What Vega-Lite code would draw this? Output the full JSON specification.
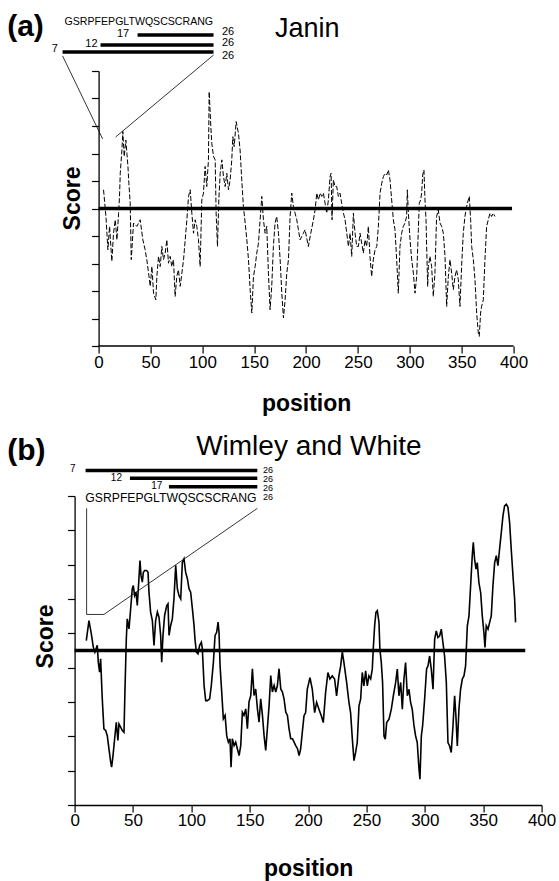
{
"$schema": "https://vega.github.io/schema/vega-lite/v6.json",
"background": "white",
"padding": {"left": 6.6, "top": 12, "right": 0, "bottom": 0},
"spacing": 18,
"config": {"view": {"stroke": null}, "font": "Liberation Sans"},
"datasets": {
"janin": [{"x":4.8,"y":0.68},{"x":7.1,"y":-0.29},{"x":9.0,"y":-1.5},{"x":10.6,"y":-0.65},{"x":12.8,"y":-1.92},{"x":14.4,"y":-0.9},{"x":16.1,"y":-0.41},{"x":17.7,"y":-1.14},{"x":19.3,"y":-0.17},{"x":20.2,"y":0.44},{"x":20.9,"y":1.28},{"x":22.5,"y":2.13},{"x":23.4,"y":2.8},{"x":24.7,"y":1.89},{"x":26.3,"y":2.49},{"x":27.3,"y":2.01},{"x":28.3,"y":1.53},{"x":29.2,"y":0.92},{"x":30.5,"y":0.19},{"x":31.5,"y":-1.86},{"x":33.7,"y":-0.53},{"x":36.9,"y":-0.65},{"x":40.1,"y":-0.41},{"x":42.7,"y":-1.14},{"x":44.9,"y":-1.5},{"x":46.5,"y":-1.86},{"x":48.2,"y":-2.35},{"x":49.8,"y":-2.83},{"x":51.4,"y":-2.11},{"x":53.0,"y":-3.08},{"x":55.2,"y":-3.32},{"x":56.2,"y":-2.47},{"x":57.8,"y":-1.74},{"x":59.4,"y":-2.11},{"x":61.0,"y":-1.38},{"x":62.6,"y":-1.86},{"x":64.2,"y":-1.62},{"x":65.8,"y":-1.14},{"x":67.4,"y":-1.99},{"x":69.0,"y":-1.74},{"x":70.6,"y":-2.11},{"x":72.2,"y":-1.86},{"x":73.8,"y":-3.2},{"x":75.4,"y":-2.47},{"x":77.0,"y":-2.23},{"x":78.7,"y":-2.83},{"x":80.3,"y":-2.35},{"x":81.9,"y":-1.86},{"x":83.5,"y":-1.14},{"x":85.1,"y":-0.41},{"x":86.7,"y":0.44},{"x":88.3,"y":0.68},{"x":89.9,"y":-0.17},{"x":91.5,"y":-0.9},{"x":93.1,"y":-0.41},{"x":94.7,"y":-0.65},{"x":96.3,"y":-1.14},{"x":97.9,"y":-2.11},{"x":99.5,"y":0.31},{"x":101.1,"y":0.56},{"x":102.7,"y":1.53},{"x":104.3,"y":0.8},{"x":105.9,"y":1.77},{"x":106.6,"y":4.25},{"x":108.2,"y":2.98},{"x":109.1,"y":2.37},{"x":110.8,"y":1.89},{"x":112.4,"y":1.77},{"x":113.3,"y":-0.17},{"x":114.6,"y":-1.38},{"x":115.9,"y":0.31},{"x":117.2,"y":1.28},{"x":118.8,"y":1.77},{"x":120.4,"y":1.16},{"x":122.0,"y":0.8},{"x":123.6,"y":1.28},{"x":125.2,"y":0.68},{"x":126.8,"y":1.04},{"x":128.4,"y":1.77},{"x":129.4,"y":2.61},{"x":130.7,"y":2.25},{"x":132.6,"y":3.16},{"x":134.8,"y":2.74},{"x":136.4,"y":2.13},{"x":138.0,"y":1.04},{"x":139.6,"y":0.07},{"x":141.3,"y":-0.53},{"x":142.9,"y":-1.14},{"x":144.5,"y":-1.86},{"x":146.1,"y":-2.95},{"x":147.7,"y":-3.8},{"x":149.3,"y":-2.47},{"x":150.9,"y":-2.11},{"x":152.5,"y":-1.62},{"x":154.1,"y":-1.26},{"x":155.7,"y":-0.41},{"x":157.3,"y":0.44},{"x":158.9,"y":-0.41},{"x":160.5,"y":-0.9},{"x":162.1,"y":-0.65},{"x":163.7,"y":-2.35},{"x":165.3,"y":-3.68},{"x":166.9,"y":-2.83},{"x":168.5,"y":-1.38},{"x":170.1,"y":-0.53},{"x":171.7,"y":-0.29},{"x":173.4,"y":-0.9},{"x":175.0,"y":-1.86},{"x":176.6,"y":-3.08},{"x":178.2,"y":-3.98},{"x":179.8,"y":-3.32},{"x":181.4,"y":-2.35},{"x":183.0,"y":-1.86},{"x":184.6,"y":-0.29},{"x":186.2,"y":0.56},{"x":187.8,"y":0.07},{"x":189.4,"y":-0.17},{"x":191.0,"y":-0.41},{"x":192.6,"y":-0.77},{"x":194.2,"y":-1.14},{"x":195.8,"y":-1.02},{"x":197.4,"y":-0.9},{"x":199.0,"y":-0.77},{"x":202.2,"y":-1.38},{"x":204.5,"y":-0.9},{"x":207.1,"y":-0.41},{"x":208.7,"y":-0.05},{"x":210.3,"y":0.56},{"x":211.9,"y":0.31},{"x":213.5,"y":0.56},{"x":215.1,"y":0.44},{"x":216.7,"y":0.56},{"x":218.3,"y":0.19},{"x":219.9,"y":-0.17},{"x":221.5,"y":0.31},{"x":223.1,"y":1.16},{"x":224.1,"y":1.28},{"x":225.0,"y":-0.41},{"x":226.3,"y":1.04},{"x":227.9,"y":0.8},{"x":229.5,"y":0.8},{"x":231.1,"y":0.44},{"x":232.7,"y":0.56},{"x":234.3,"y":0.19},{"x":236.0,"y":-0.17},{"x":237.6,"y":-0.41},{"x":239.2,"y":-0.9},{"x":240.8,"y":-1.38},{"x":242.4,"y":-0.9},{"x":244.0,"y":-1.74},{"x":245.6,"y":-0.17},{"x":247.2,"y":-0.9},{"x":248.8,"y":-1.38},{"x":250.4,"y":-1.38},{"x":252.0,"y":-0.9},{"x":253.6,"y":-1.26},{"x":255.2,"y":-1.62},{"x":256.8,"y":-1.14},{"x":258.4,"y":-1.38},{"x":260.0,"y":-0.65},{"x":261.6,"y":-1.74},{"x":263.2,"y":-2.47},{"x":264.8,"y":-1.86},{"x":266.5,"y":-1.5},{"x":268.1,"y":-1.38},{"x":269.7,"y":-0.65},{"x":271.3,"y":0.56},{"x":272.9,"y":0.92},{"x":274.5,"y":1.16},{"x":276.1,"y":1.28},{"x":277.7,"y":1.22},{"x":279.3,"y":1.4},{"x":280.9,"y":1.04},{"x":282.5,"y":0.31},{"x":284.1,"y":-0.41},{"x":285.7,"y":-0.77},{"x":287.3,"y":-1.86},{"x":288.9,"y":-3.08},{"x":290.5,"y":-1.38},{"x":292.1,"y":-0.9},{"x":293.7,"y":-0.65},{"x":295.3,"y":-0.53},{"x":296.9,"y":-0.29},{"x":297.6,"y":0.68},{"x":298.6,"y":-0.17},{"x":300.2,"y":-1.14},{"x":301.8,"y":-1.86},{"x":303.4,"y":-2.35},{"x":305.0,"y":-3.08},{"x":306.6,"y":-2.47},{"x":308.2,"y":-0.77},{"x":309.1,"y":0.19},{"x":310.4,"y":0.31},{"x":311.4,"y":0.56},{"x":312.4,"y":1.22},{"x":313.6,"y":1.4},{"x":314.6,"y":0.31},{"x":315.6,"y":-0.41},{"x":316.2,"y":-1.38},{"x":317.2,"y":-2.83},{"x":317.8,"y":-2.11},{"x":319.4,"y":-1.74},{"x":321.0,"y":-2.11},{"x":322.6,"y":-3.2},{"x":324.2,"y":-2.35},{"x":325.8,"y":-0.29},{"x":327.4,"y":-0.05},{"x":329.1,"y":-0.53},{"x":330.7,"y":-0.65},{"x":332.3,"y":-0.9},{"x":333.9,"y":-1.74},{"x":335.5,"y":-3.56},{"x":337.1,"y":-2.47},{"x":338.7,"y":-1.86},{"x":340.3,"y":-2.35},{"x":341.9,"y":-2.95},{"x":343.5,"y":-2.47},{"x":345.1,"y":-2.23},{"x":346.7,"y":-2.59},{"x":348.3,"y":-3.56},{"x":349.9,"y":-2.11},{"x":351.5,"y":-0.9},{"x":353.1,"y":-0.29},{"x":354.7,"y":0.07},{"x":356.3,"y":0.31},{"x":357.3,"y":0.44},{"x":358.6,"y":-0.41},{"x":359.6,"y":-1.38},{"x":361.2,"y":-1.86},{"x":362.8,"y":-2.59},{"x":364.4,"y":-3.8},{"x":366.0,"y":-4.53},{"x":366.9,"y":-4.65},{"x":368.2,"y":-3.8},{"x":369.2,"y":-3.56},{"x":370.8,"y":-3.32},{"x":372.4,"y":-1.86},{"x":374.0,"y":-0.65},{"x":375.6,"y":-0.41},{"x":377.2,"y":-0.17},{"x":378.8,"y":-0.29},{"x":380.4,"y":-0.17},{"x":382.0,"y":-0.29}],
"wimley": [{"x":10,"y":0.29},{"x":12.3,"y":0.87},{"x":14.3,"y":0.49},{"x":16,"y":0.1},{"x":17.4,"y":-0.05},{"x":19.4,"y":0.15},{"x":20.3,"y":-0.34},{"x":21.4,"y":-0.63},{"x":22.3,"y":-0.24},{"x":23.7,"y":-1.41},{"x":25.1,"y":-2.28},{"x":26.6,"y":-2.33},{"x":28,"y":-2.48},{"x":29.4,"y":-2.86},{"x":30.9,"y":-3.25},{"x":31.7,"y":-3.4},{"x":32.9,"y":-3.06},{"x":34.3,"y":-2.57},{"x":35.7,"y":-2.09},{"x":37.1,"y":-2.62},{"x":38,"y":-2.14},{"x":39.4,"y":-2.23},{"x":40.9,"y":-2.33},{"x":42.3,"y":-2.38},{"x":43.1,"y":-1.21},{"x":44.3,"y":0.34},{"x":45.1,"y":0.92},{"x":46.6,"y":0.63},{"x":48,"y":1.21},{"x":49.4,"y":1.8},{"x":50.3,"y":1.89},{"x":51.4,"y":1.6},{"x":52.6,"y":1.7},{"x":53.7,"y":1.31},{"x":55.1,"y":2.09},{"x":56,"y":2.62},{"x":56.9,"y":2.18},{"x":58,"y":1.99},{"x":58.9,"y":2.28},{"x":60,"y":2.33},{"x":61.7,"y":2.33},{"x":62.9,"y":2.28},{"x":63.7,"y":1.7},{"x":65.1,"y":1.12},{"x":66.6,"y":0.87},{"x":68,"y":0.15},{"x":69.4,"y":0.87},{"x":70.9,"y":1.12},{"x":72.3,"y":0.97},{"x":73.7,"y":0.44},{"x":74.6,"y":-0.34},{"x":75.7,"y":0.44},{"x":77.1,"y":1.02},{"x":78.9,"y":1.31},{"x":80,"y":1.36},{"x":80.9,"y":0.44},{"x":82.3,"y":0.73},{"x":83.7,"y":0.92},{"x":85.1,"y":1.5},{"x":86.6,"y":2.48},{"x":88,"y":1.8},{"x":89.4,"y":1.6},{"x":90.9,"y":1.5},{"x":92.3,"y":2.57},{"x":93.7,"y":2.67},{"x":95.1,"y":2.28},{"x":96.6,"y":2.09},{"x":98,"y":1.8},{"x":99.4,"y":1.7},{"x":100.9,"y":1.21},{"x":102.3,"y":0.73},{"x":103.1,"y":0.34},{"x":104.3,"y":-0.05},{"x":105.7,"y":-0.1},{"x":107.1,"y":0.15},{"x":108.6,"y":0.24},{"x":109.4,"y":0.05},{"x":110.9,"y":-1.02},{"x":112.3,"y":-1.46},{"x":113.7,"y":-1.46},{"x":115.7,"y":-1.41},{"x":117.1,"y":-1.02},{"x":118.9,"y":-0.34},{"x":120.3,"y":0.44},{"x":121.7,"y":0.53},{"x":122.9,"y":0.83},{"x":123.7,"y":0.53},{"x":124.6,"y":-0.44},{"x":126,"y":-1.21},{"x":127.4,"y":-1.99},{"x":128.9,"y":-1.89},{"x":130.3,"y":-2.48},{"x":131.7,"y":-2.67},{"x":133.1,"y":-2.57},{"x":134,"y":-3.4},{"x":135.1,"y":-2.57},{"x":136.6,"y":-2.77},{"x":138,"y":-2.67},{"x":139.4,"y":-2.86},{"x":140.9,"y":-3.06},{"x":142.3,"y":-2.77},{"x":143.7,"y":-1.8},{"x":145.1,"y":-1.89},{"x":146.6,"y":-1.7},{"x":148,"y":-2.28},{"x":149.4,"y":-1.5},{"x":150.9,"y":-1.31},{"x":152.3,"y":-0.53},{"x":153.7,"y":-1.31},{"x":155.1,"y":-1.12},{"x":156.6,"y":-1.7},{"x":158,"y":-2.09},{"x":159.4,"y":-1.41},{"x":160.9,"y":-1.89},{"x":162.3,"y":-2.48},{"x":163.7,"y":-2.91},{"x":165.1,"y":-2.28},{"x":166.6,"y":-1.6},{"x":168,"y":-0.73},{"x":169.4,"y":-1.21},{"x":170.9,"y":-1.02},{"x":172.3,"y":-1.21},{"x":173.7,"y":-1.02},{"x":175.1,"y":-0.53},{"x":176.6,"y":-1.12},{"x":178,"y":-1.21},{"x":179.4,"y":-1.41},{"x":180.9,"y":-1.8},{"x":182.3,"y":-1.89},{"x":183.7,"y":-2.28},{"x":185.1,"y":-2.57},{"x":186.6,"y":-2.57},{"x":188,"y":-2.67},{"x":189.4,"y":-2.77},{"x":190.9,"y":-2.86},{"x":192.3,"y":-3.06},{"x":193.6,"y":-2.87},{"x":195.0,"y":-2.39},{"x":196.5,"y":-1.9},{"x":197.9,"y":-1.81},{"x":199.3,"y":-1.13},{"x":201.6,"y":-0.79},{"x":203.6,"y":-1.13},{"x":205.6,"y":-1.81},{"x":207.3,"y":-1.51},{"x":209.3,"y":-1.71},{"x":211.3,"y":-1.9},{"x":213.0,"y":-2.1},{"x":215.0,"y":-1.22},{"x":217.0,"y":-0.64},{"x":218.7,"y":-0.83},{"x":220.7,"y":-0.74},{"x":222.7,"y":-0.83},{"x":224.4,"y":-1.32},{"x":226.4,"y":-0.74},{"x":227.9,"y":-0.45},{"x":229.3,"y":-0.04},{"x":230.7,"y":-0.35},{"x":233.0,"y":-0.93},{"x":235.0,"y":-1.51},{"x":236.4,"y":-1.81},{"x":237.9,"y":-2.58},{"x":239.3,"y":-3.21},{"x":240.7,"y":-2.97},{"x":242.1,"y":-2.68},{"x":243.6,"y":-1.61},{"x":245.0,"y":-1.42},{"x":246.4,"y":-0.64},{"x":247.8,"y":-1.03},{"x":249.3,"y":-0.59},{"x":250.7,"y":-1.03},{"x":252.1,"y":-0.74},{"x":253.6,"y":-0.83},{"x":255.0,"y":-0.54},{"x":255.8,"y":0.04},{"x":257.0,"y":0.72},{"x":258.1,"y":1.11},{"x":259.3,"y":1.16},{"x":260.7,"y":0.82},{"x":261.5,"y":0.04},{"x":262.7,"y":-0.35},{"x":263.8,"y":-0.93},{"x":265.0,"y":-2.49},{"x":266.1,"y":-2.58},{"x":267.3,"y":-2.1},{"x":269.3,"y":-2.0},{"x":271.3,"y":-1.71},{"x":273.0,"y":-1.32},{"x":275.0,"y":-0.93},{"x":276.4,"y":-0.54},{"x":277.8,"y":-1.32},{"x":279.3,"y":-0.93},{"x":280.7,"y":-1.71},{"x":282.1,"y":-0.83},{"x":283.5,"y":-0.35},{"x":285.0,"y":-1.32},{"x":286.4,"y":-1.13},{"x":287.8,"y":-1.51},{"x":289.2,"y":-1.71},{"x":290.7,"y":-2.19},{"x":292.1,"y":-2.49},{"x":293.5,"y":-2.68},{"x":295.0,"y":-3.46},{"x":295.8,"y":-3.75},{"x":297.0,"y":-2.49},{"x":298.1,"y":-2.19},{"x":299.8,"y":-1.42},{"x":301.5,"y":-0.54},{"x":302.7,"y":-0.45},{"x":304.1,"y":-0.16},{"x":305.5,"y":-0.54},{"x":307.0,"y":-1.13},{"x":308.4,"y":0.33},{"x":309.8,"y":0.57},{"x":311.2,"y":0.38},{"x":312.7,"y":0.43},{"x":314.1,"y":0.62},{"x":315.5,"y":0.23},{"x":316.9,"y":-0.16},{"x":318.4,"y":-0.93},{"x":319.8,"y":-2.68},{"x":321.2,"y":-2.78},{"x":322.6,"y":-2.97},{"x":324.1,"y":-2.19},{"x":325.5,"y":-1.32},{"x":326.6,"y":-1.9},{"x":327.8,"y":-2.78},{"x":329.2,"y":-1.71},{"x":330.6,"y":-1.13},{"x":332.1,"y":-0.83},{"x":333.5,"y":-0.74},{"x":334.9,"y":-0.45},{"x":336.4,"y":0.72},{"x":337.8,"y":1.01},{"x":339.2,"y":1.88},{"x":340.6,"y":2.76},{"x":341.5,"y":3.15},{"x":342.6,"y":2.66},{"x":343.8,"y":2.37},{"x":344.9,"y":2.56},{"x":346.3,"y":1.98},{"x":347.8,"y":1.69},{"x":349.2,"y":1.01},{"x":350.6,"y":0.52},{"x":351.5,"y":0.09},{"x":352.6,"y":0.72},{"x":354.1,"y":0.62},{"x":355.5,"y":0.82},{"x":356.9,"y":1.01},{"x":358.3,"y":1.88},{"x":359.8,"y":2.56},{"x":361.2,"y":2.76},{"x":362.6,"y":2.47},{"x":364.0,"y":2.95},{"x":365.5,"y":3.44},{"x":366.9,"y":3.92},{"x":368.3,"y":4.21},{"x":369.8,"y":4.26},{"x":371.2,"y":4.17},{"x":372.6,"y":3.73},{"x":374.0,"y":2.95},{"x":375.5,"y":2.17},{"x":376.9,"y":1.5},{"x":377.7,"y":0.82}],
"zeroA": [{"x": 0, "x2": 398.5, "y": 0}],
"baseA": [{"x": 0, "x2": 400, "y": -5}],
"barsA": [{"x": 37.6, "x2": 110.8, "y": 6.31}, {"x": 1.9, "x2": 110.8, "y": 5.95}, {"x": -34.7, "x2": 110.8, "y": 5.69}],
"linksA": [{"seg": "L", "k": 0, "x": -34.7, "y": 5.55}, {"seg": "L", "k": 1, "x": 3.9, "y": 2.53}, {"seg": "R", "k": 0, "x": 110.8, "y": 5.58}, {"seg": "R", "k": 1, "x": 16.4, "y": 2.6}],
"numsA": [{"x": -42.2, "y": 5.79, "t": "7"}, {"x": -6.9, "y": 5.97, "t": "12"}, {"x": 23.6, "y": 6.34, "t": "17"}, {"x": 124.8, "y": 6.43, "t": "26"}, {"x": 124.8, "y": 6.01, "t": "26"}, {"x": 124.8, "y": 5.55, "t": "26"}],
"seqA": [{"x": 38.8, "y": 6.78, "t": "GSRPFEPGLTWQSCSCRANG"}],
"labA": [{"x": -70.4, "y": 6.6, "t": "(a)"}],
"titleA": [{"x": 201.2, "y": 6.25, "t": "Janin"}],
"zeroB": [{"x": 0, "x2": 386, "y": 0}],
"barsB": [{"x": 9.4, "x2": 156.5, "y": 5.24}, {"x": 47.4, "x2": 156.5, "y": 5.02}, {"x": 80.8, "x2": 156.5, "y": 4.77}],
"linksB": [{"seg": "P", "k": 0, "x": 10.3, "y": 4.14}, {"seg": "P", "k": 1, "x": 10.3, "y": 1.05}, {"seg": "P", "k": 2, "x": 25.1, "y": 1.05}, {"seg": "P", "k": 3, "x": 156.5, "y": 4.14}],
"numsB": [{"x": -1.5, "y": 5.28, "t": "7"}, {"x": 35.8, "y": 5.03, "t": "12"}, {"x": 70.4, "y": 4.79, "t": "17"}],
"endsB": [{"x": 165.7, "y": 5.264, "t": "26"}, {"x": 165.7, "y": 5.0, "t": "26"}, {"x": 165.7, "y": 4.739, "t": "26"}, {"x": 165.7, "y": 4.477, "t": "26"}],
"seqB": [{"x": 82.5, "y": 4.44, "t": "GSRPFEPGLTWQSCSCRANG"}],
"labB": [{"x": -41.3, "y": 5.82, "t": "(b)"}],
"titleB": [{"x": 200.7, "y": 5.69, "t": "Wimley and White"}]
},
"vconcat": [
{
"width": 439, "height": 275,
"encoding": {
"x": {"field": "x", "type": "quantitative", "scale": {"domain": [-23.1, 400], "nice": false, "zero": false},
 "axis": {"values": [0,50,100,150,200,250,300,350,400], "domain": false, "grid": false, "tickSize": 7, "tickColor": "black", "tickWidth": 1.2, "labelFontSize": 17, "labelColor": "black", "labelPadding": 1, "labelFlush": false, "labelOverlap": false, "title": "position", "titleFontSize": 23, "titleFontWeight": "bold", "titleColor": "black", "titlePadding": 22, "titleX": 231.5}},
"y": {"field": "y", "type": "quantitative", "scale": {"domain": [-5, 5], "nice": false, "zero": false},
 "axis": {"values": [-5,-4,-3,-2,-1,0,1,2,3,4,5], "labels": false, "grid": false, "tickSize": 7, "tickColor": "black", "tickWidth": 1.2, "domainColor": "black", "domainWidth": 1.3, "offset": -24, "minExtent": 0, "title": "Score", "titleFontSize": 23, "titleFontWeight": "bold", "titleColor": "black", "titlePadding": 6, "titleY": 127}}
},
"layer": [
{"data": {"name": "janin"}, "mark": {"type": "line", "color": "black", "strokeWidth": 1, "strokeDash": [5, 2]}},
{"data": {"name": "zeroA"}, "mark": {"type": "rule", "color": "black", "strokeWidth": 3.5}, "encoding": {"x2": {"field": "x2"}}},
{"data": {"name": "baseA"}, "mark": {"type": "rule", "color": "black", "strokeWidth": 1.3}, "encoding": {"x2": {"field": "x2"}}},
{"data": {"name": "barsA"}, "mark": {"type": "rule", "color": "black", "strokeWidth": 3.5}, "encoding": {"x2": {"field": "x2"}}},
{"data": {"name": "linksA"}, "mark": {"type": "line", "color": "black", "strokeWidth": 0.8}, "encoding": {"detail": {"field": "seg"}, "order": {"field": "k"}}},
{"data": {"name": "numsA"}, "mark": {"type": "text", "fontSize": 11, "color": "black"}, "encoding": {"text": {"field": "t"}}},
{"data": {"name": "seqA"}, "mark": {"type": "text", "fontSize": 10.6, "color": "black"}, "encoding": {"text": {"field": "t"}}},
{"data": {"name": "labA"}, "mark": {"type": "text", "fontSize": 30, "fontWeight": "bold", "color": "black"}, "encoding": {"text": {"field": "t"}}},
{"data": {"name": "titleA"}, "mark": {"type": "text", "fontSize": 27, "baseline": "alphabetic", "color": "black"}, "encoding": {"text": {"field": "t"}}}
]
},
{
"width": 467, "height": 309,
"encoding": {
"x": {"field": "x", "type": "quantitative", "scale": {"domain": [0, 400], "nice": false, "zero": false},
 "axis": {"values": [0,50,100,150,200,250,300,350,400], "domain": true, "domainColor": "black", "domainWidth": 1.3, "grid": false, "tickSize": 7, "tickColor": "black", "tickWidth": 1.2, "labelFontSize": 17, "labelColor": "black", "labelPadding": 1, "labelFlush": false, "labelOverlap": false, "title": "position", "titleFontSize": 23, "titleFontWeight": "bold", "titleColor": "black", "titlePadding": 29}},
"y": {"field": "y", "type": "quantitative", "scale": {"domain": [-4.5, 4.5], "nice": false, "zero": false},
 "axis": {"values": [-4.5,-3.5,-2.5,-1.5,-0.5,0.5,1.5,2.5,3.5,4.5], "labels": false, "grid": false, "tickSize": 7, "tickColor": "black", "tickWidth": 1.2, "domainColor": "black", "domainWidth": 1.3, "minExtent": 0, "title": "Score", "titleFontSize": 23, "titleFontWeight": "bold", "titleColor": "black", "titlePadding": 9, "titleY": 140}}
},
"layer": [
{"data": {"name": "wimley"}, "mark": {"type": "line", "color": "black", "strokeWidth": 1.6}},
{"data": {"name": "zeroB"}, "mark": {"type": "rule", "color": "black", "strokeWidth": 3.5}, "encoding": {"x2": {"field": "x2"}}},
{"data": {"name": "barsB"}, "mark": {"type": "rule", "color": "black", "strokeWidth": 3.5}, "encoding": {"x2": {"field": "x2"}}},
{"data": {"name": "linksB"}, "mark": {"type": "line", "color": "black", "strokeWidth": 0.8}, "encoding": {"detail": {"field": "seg"}, "order": {"field": "k"}}},
{"data": {"name": "numsB"}, "mark": {"type": "text", "fontSize": 10, "color": "black"}, "encoding": {"text": {"field": "t"}}},
{"data": {"name": "endsB"}, "mark": {"type": "text", "fontSize": 9, "color": "black"}, "encoding": {"text": {"field": "t"}}},
{"data": {"name": "seqB"}, "mark": {"type": "text", "fontSize": 12.2, "color": "black"}, "encoding": {"text": {"field": "t"}}},
{"data": {"name": "labB"}, "mark": {"type": "text", "fontSize": 30, "fontWeight": "bold", "color": "black"}, "encoding": {"text": {"field": "t"}}},
{"data": {"name": "titleB"}, "mark": {"type": "text", "fontSize": 28, "baseline": "alphabetic", "color": "black"}, "encoding": {"text": {"field": "t"}}}
]
}
]
}
